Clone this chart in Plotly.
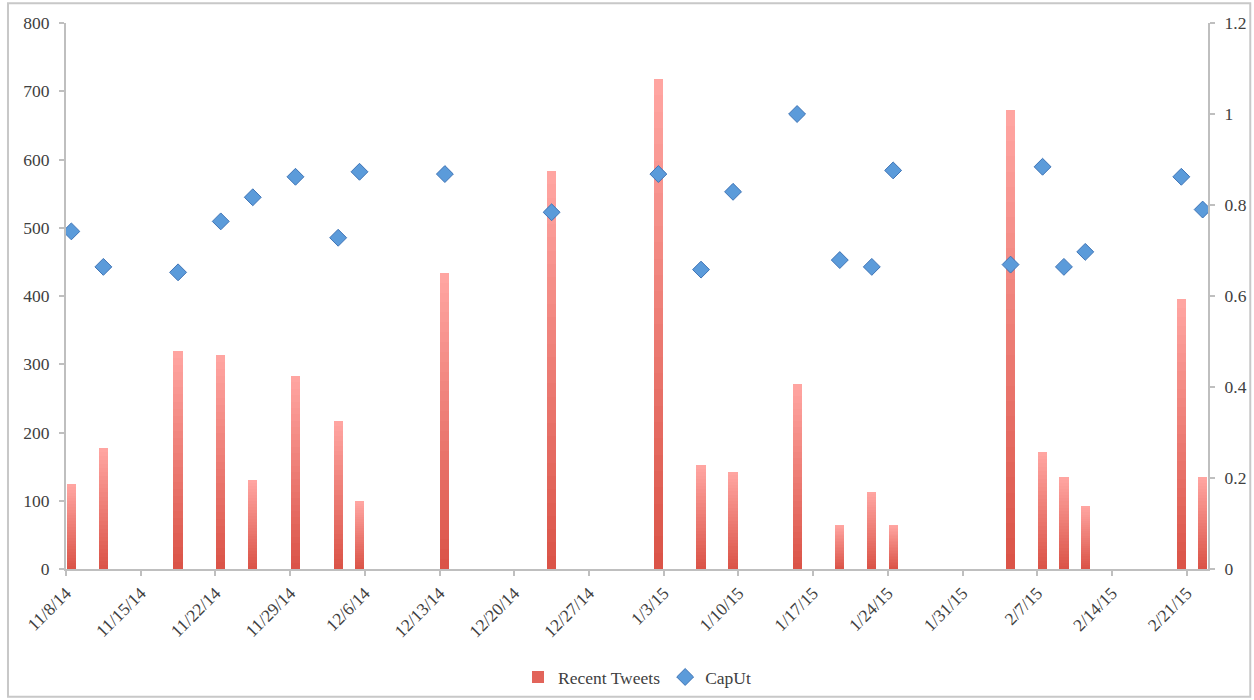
import pandas as pd
import plotly.graph_objects as go

# ---- data ----
dates = ["2014-11-08", "2014-11-11", "2014-11-18", "2014-11-22", "2014-11-25", "2014-11-29",
         "2014-12-03", "2014-12-05", "2014-12-13", "2014-12-23", "2015-01-02", "2015-01-06",
         "2015-01-09", "2015-01-15", "2015-01-19", "2015-01-22", "2015-01-24", "2015-02-04",
         "2015-02-07", "2015-02-09", "2015-02-11", "2015-02-20", "2015-02-22"]
recent_tweets = [124, 177, 320, 314, 130, 283, 217, 99, 434, 583, 718, 152,
                 142, 271, 65, 113, 65, 672, 172, 135, 92, 396, 135]
caput = [0.742, 0.664, 0.652, 0.764, 0.817, 0.862, 0.728, 0.873, 0.868, 0.784, 0.868, 0.658,
         0.829, 1.0, 0.679, 0.664, 0.876, 0.669, 0.884, 0.664, 0.697, 0.862, 0.790]
tick_dates = ["2014-11-08", "2014-11-15", "2014-11-22", "2014-11-29", "2014-12-06", "2014-12-13",
              "2014-12-20", "2014-12-27", "2015-01-03", "2015-01-10", "2015-01-17", "2015-01-24",
              "2015-01-31", "2015-02-07", "2015-02-14", "2015-02-21"]
tick_labels = ["11/8/14", "11/15/14", "11/22/14", "11/29/14", "12/6/14", "12/13/14",
               "12/20/14", "12/27/14", "1/3/15", "1/10/15", "1/17/15", "1/24/15",
               "1/31/15", "2/7/15", "2/14/15", "2/21/15"]

# centre each mark in its day slot
x = pd.to_datetime(dates) + pd.Timedelta(hours=12)
DAY_MS = 86400000

fig = go.Figure()

# gradient bars: overlaid bars, lighter full-height first, darker shorter on top
top_rgb = (255, 165, 161)
bot_rgb = (219, 84, 72)
N = 30
for k in range(N):
    t = k / (N - 1)
    c = tuple(round(top_rgb[i] + (bot_rgb[i] - top_rgb[i]) * t) for i in range(3))
    frac = (N - k) / N
    fig.add_trace(go.Bar(
        x=x, y=[v * frac for v in recent_tweets],
        width=0.86 * DAY_MS,
        marker=dict(color="rgb(%d,%d,%d)" % c, line=dict(width=0)),
        showlegend=False, hoverinfo="skip",
    ))

# legend entry for bars
fig.add_trace(go.Bar(
    x=[None], y=[None], name="Recent Tweets",
    marker=dict(color="#E2645A", line=dict(width=0)),
))
# real hover data
fig.add_trace(go.Bar(
    x=x, y=recent_tweets, width=0.86 * DAY_MS, showlegend=False, name="Recent Tweets",
    marker=dict(color="rgba(0,0,0,0)", line=dict(width=0)),
))

fig.add_trace(go.Scatter(
    x=x, y=caput, yaxis="y2", mode="markers", name="CapUt",
    marker=dict(symbol="diamond", size=13, color="#5B9BDA",
                line=dict(color="#3F74B6", width=1)),
))

font_family = "Liberation Serif, Times New Roman, serif"
axis_color = "#BFBFBF"
text_color = "#404040"
FS = 17.5

fig.update_layout(
    width=1254, height=700,
    barmode="overlay",
    bargap=0,
    paper_bgcolor="white", plot_bgcolor="white",
    margin=dict(l=66, r=46, t=23, b=131, autoexpand=False),
    font=dict(family=font_family, size=FS, color=text_color),
    xaxis=dict(
        type="date",
        range=["2014-11-08", "2015-02-23"],
        tickmode="array", tickvals=tick_dates, ticktext=tick_labels,
        tickangle=-45,
        showgrid=False, zeroline=False,
        showline=True, linecolor=axis_color, linewidth=2,
        ticks="outside", ticklen=5, tickcolor=axis_color, tickwidth=2,
        tickfont=dict(size=FS, color=text_color),
        automargin=False,
    ),
    yaxis=dict(
        range=[0, 800], dtick=100,
        showgrid=False, zeroline=False,
        showline=True, linecolor=axis_color, linewidth=2,
        ticks="outside", ticklen=5, tickcolor=axis_color, tickwidth=2,
        tickfont=dict(size=FS, color=text_color),
        ticklabelstandoff=6,
        automargin=False,
    ),
    yaxis2=dict(
        overlaying="y", side="right",
        range=[0, 1.2], dtick=0.2,
        showgrid=False, zeroline=False,
        showline=True, linecolor=axis_color, linewidth=2,
        ticks="outside", ticklen=5, tickcolor=axis_color, tickwidth=2,
        tickfont=dict(size=FS, color=text_color),
        tickformat="~g",
        ticklabelstandoff=6,
        automargin=False,
    ),
    legend=dict(
        orientation="h", x=0.5, xanchor="center", y=-0.198, yanchor="middle",
        font=dict(size=FS, color=text_color), bgcolor="rgba(0,0,0,0)",
        itemwidth=30, tracegroupgap=0,
    ),
    shapes=[dict(
        type="rect", xref="paper", yref="paper",
        x0=-0.0508, x1=1.037, y0=-0.234, y1=1.036,
        line=dict(color="#C8C8C8", width=2), fillcolor="rgba(0,0,0,0)", layer="below",
    )],
)

fig.write_html("out.html", config={"displayModeBar": False},
               post_script="document.body.style.margin='0px';")
